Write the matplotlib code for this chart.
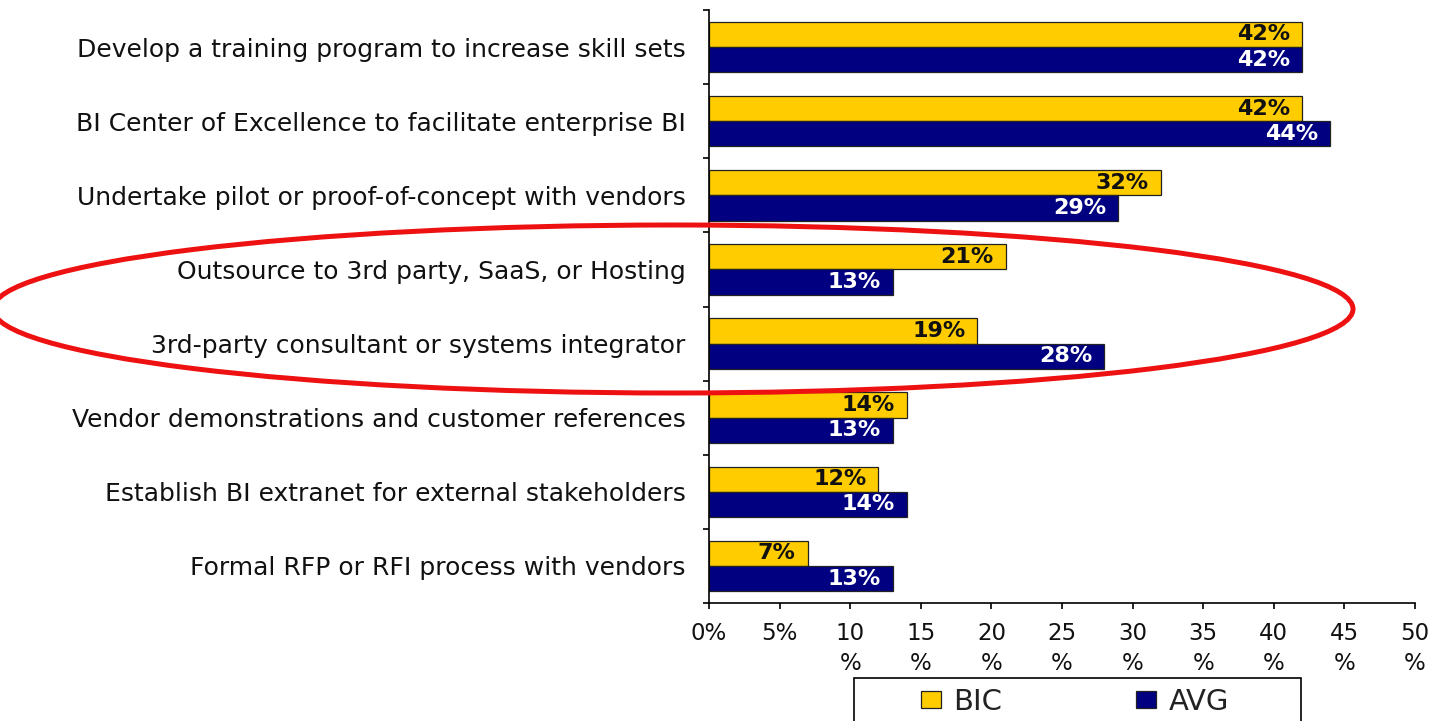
import matplotlib
matplotlib.use("Agg")
import matplotlib.pyplot as plt
import numpy as np
from matplotlib.patches import Ellipse, Rectangle
from matplotlib.transforms import IdentityTransform

categories = [
    "Develop a training program to increase skill sets",
    "BI Center of Excellence to facilitate enterprise BI",
    "Undertake pilot or proof-of-concept with vendors",
    "Outsource to 3rd party, SaaS, or Hosting",
    "3rd-party consultant or systems integrator",
    "Vendor demonstrations and customer references",
    "Establish BI extranet for external stakeholders",
    "Formal RFP or RFI process with vendors",
]
bic = [42, 42, 32, 21, 19, 14, 12, 7]
avg = [42, 44, 29, 13, 28, 13, 14, 13]
xticks = [0, 5, 10, 15, 20, 25, 30, 35, 40, 45, 50]
xtick_labels = ["0%", "5%", "10\n%", "15\n%", "20\n%", "25\n%", "30\n%", "35\n%", "40\n%", "45\n%", "50\n%"]
series_names = ["BIC", "AVG"]

YELLOW = "#FFCC00"
NAVY = "#000080"

W, H = 1433, 721
fig = plt.figure(figsize=(W / 100, H / 100), dpi=100)
ax = fig.add_axes([709 / W, 1 - 603 / H, (1415 - 709) / W, (603 - 10) / H])

y = np.arange(len(categories))
h = 0.34
b1 = ax.barh(y - h / 2, bic, height=h, color=YELLOW, edgecolor="#222222", linewidth=0.9, label=series_names[0])
b2 = ax.barh(y + h / 2, avg, height=h, color=NAVY, edgecolor="#222222", linewidth=0.9, label=series_names[1])

ax.set_xlim(0, 50)
ax.set_ylim(len(categories) - 0.5, -0.5)

for rect, v in zip(b1, bic):
    ax.annotate(f"{v}%", (rect.get_width(), rect.get_y() + rect.get_height() / 2),
                xytext=(-12, 0), textcoords="offset pixels", ha="right", va="center",
                fontsize=16, fontweight="bold", color="#111111", family="DejaVu Sans")
for rect, v in zip(b2, avg):
    ax.annotate(f"{v}%", (rect.get_width(), rect.get_y() + rect.get_height() / 2),
                xytext=(-12, 0), textcoords="offset pixels", ha="right", va="center",
                fontsize=16, fontweight="bold", color="white", family="DejaVu Sans")

ax.set_yticks(y)
ax.set_yticklabels(categories, fontsize=18, family="DejaVu Sans", color="#111111")
ax.tick_params(axis="y", which="major", length=0, pad=17)
ax.set_yticks(np.arange(len(categories) + 1) - 0.5, minor=True)
ax.tick_params(axis="y", which="minor", length=4.5, width=1.2, direction="out")

ax.set_xticks(xticks)
ax.set_xticklabels(xtick_labels, fontsize=16.5, family="DejaVu Sans", color="#111111", linespacing=1.38)
ax.tick_params(axis="x", length=4.5, width=1.2, pad=9)

for s in ["top", "right"]:
    ax.spines[s].set_visible(False)
for s in ["left", "bottom"]:
    ax.spines[s].set_linewidth(1.2)

# legend box (cut off at the bottom like the reference)
fig.patches.append(Rectangle((854 / W, -0.05), (1301 - 854) / W, (1 - 678 / H) + 0.05,
                             transform=fig.transFigure, facecolor="white",
                             edgecolor="black", linewidth=1.2, figure=fig))
leg = fig.legend(handles=[b1, b2], labels=series_names, loc="center left",
                 bbox_to_anchor=(921 / W, 1 - 702 / H), ncol=2, frameon=False,
                 prop={"family": "DejaVu Sans", "size": 21}, handlelength=0.68,
                 handleheight=0.55, handletextpad=0.42, columnspacing=4.6,
                 borderpad=0, borderaxespad=0, labelcolor="#222222")

# red ellipse annotation
ell = Ellipse((673, H - 309), 2 * 680, 2 * 84, angle=0, transform=IdentityTransform(),
              fill=False, edgecolor="#EE1111", linewidth=3.6, zorder=10)
fig.patches.append(ell)
ell.set_figure(fig)

fig.savefig("out.png", dpi=100)
